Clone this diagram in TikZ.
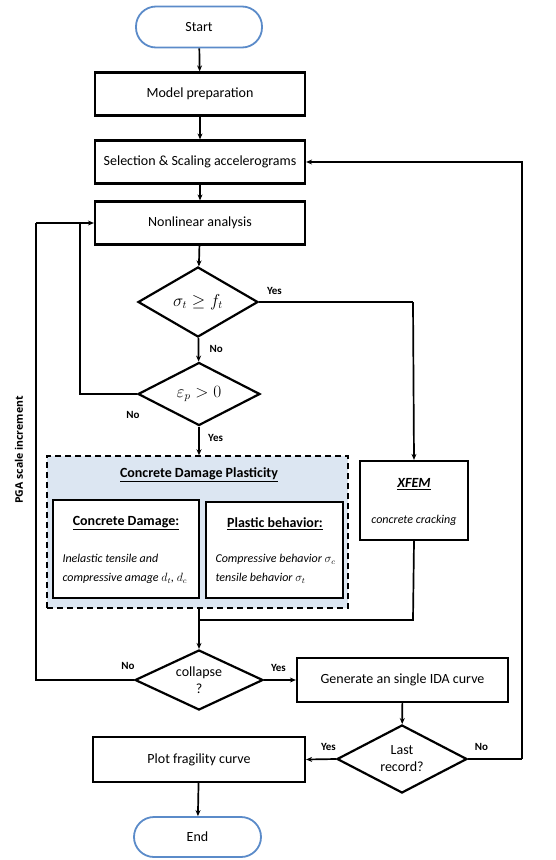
\documentclass[tikz,border=0pt]{standalone}
\usepackage{fontspec}
\setmainfont{Carlito}
\newfontfamily\pgafont{Open Sans}
\usetikzlibrary{shapes.geometric,arrows.meta}
\definecolor{pillblue}{HTML}{5B8BC9}
\definecolor{cdpfill}{HTML}{DCE6F2}
\tikzset{
  every node/.style={font=\fontsize{14}{16}\selectfont},
  pill/.style={draw=pillblue, line width=1.8pt, rounded corners=20pt, minimum width=126pt, minimum height=41pt, inner sep=0pt},
  procbox/.style={draw, line width=2.2pt, minimum width=210pt, minimum height=43pt, inner sep=0pt},
  decision/.style={draw, line width=2.2pt, diamond, aspect=1.7, inner sep=0pt},
  innerbox/.style={draw, line width=2.2pt, inner sep=0pt, align=center},
  conn/.style={line width=1.7pt},
  arr/.style={conn, -{Stealth[length=6pt,width=5pt]}},
  lbl/.style={font=\fontsize{11}{13}\selectfont\bfseries},
}
\begin{document}
\begin{tikzpicture}[x=1pt,y=-1pt]
\useasboundingbox (0,0) rectangle (555,860);
% nodes
\node[pill] (start) at (199,27) {Start};
\node[procbox] (model) at (200,94) {Model preparation};
\node[procbox] (sel) at (200,162) {Selection \& Scaling accelerograms};
\node[procbox] (nla) at (200,223) {Nonlinear analysis};
\node[decision, minimum width=120pt, minimum height=70pt, font=\fontsize{16}{18}\selectfont] (sig) at (198,302) {$\sigma_t \geq f_t$};
\node[decision, minimum width=122pt, minimum height=63pt, font=\fontsize{16}{18}\selectfont] (eps) at (199,394) {$\varepsilon_p > 0$};
% CDP region
\node[draw, dash pattern=on 6pt off 4pt, line width=1.5pt, fill=cdpfill, minimum width=301pt, minimum height=152pt, inner sep=0pt] (cdp) at (197.5,532) {};
\node[font=\fontsize{14}{16}\selectfont\bfseries] (cdptitle) at (199,475) {\underline{Concrete Damage Plasticity}};
\node[innerbox, fill=white, minimum width=146pt, minimum height=98pt] (cdbox) at (126,549) {};
\node[font=\fontsize{14}{16}\selectfont\bfseries] (cdhead) at (126,523) {\underline{Concrete Damage:}};
\node[font=\fontsize{12}{19}\selectfont\itshape, align=left, anchor=west] (cdtext) at (59,569) {Inelastic tensile and\\compressive amage $d_t$, $d_c$};
\node[innerbox, fill=white, minimum width=137pt, minimum height=96pt] (plbox) at (274.5,550) {};
\node[font=\fontsize{14}{16}\selectfont\bfseries] (plhead) at (275,524) {\underline{Plastic behavior:}};
\node[font=\fontsize{12}{19}\selectfont\itshape, align=left, anchor=west] (pltext) at (212,569) {Compressive behavior $\sigma_c$\\tensile behavior $\sigma_t$};
% XFEM
\node[innerbox, minimum width=108pt, minimum height=79pt] (xfem) at (414,500.5) {};
\node[font=\fontsize{14}{16}\selectfont\bfseries\itshape] (xfemhead) at (414,484) {\underline{XFEM}};
\node[font=\fontsize{12}{14}\selectfont\itshape] (xfemtext) at (414,520) {concrete cracking};
% lower part
\node[decision, minimum width=128pt, minimum height=60pt, align=center, font=\fontsize{14}{17}\selectfont] (col) at (199,680) {collapse\\?};
\node[procbox, minimum width=211pt, minimum height=44pt] (ida) at (402.5,680) {Generate an single IDA curve};
\node[decision, minimum width=130pt, minimum height=68pt, align=center, font=\fontsize{14}{17}\selectfont] (last) at (402,759) {Last\\record?};
\node[procbox, minimum width=212pt, minimum height=45pt] (plot) at (199,759.5) {Plot fragility curve};
\node[pill, minimum width=127pt, minimum height=40pt] (end) at (197.5,837) {End};
% side label
\node[rotate=90, font=\pgafont\fontsize{10.5}{12}\selectfont\bfseries] (pga) at (19,450) {PGA scale increment};
% coordinates
\coordinate (outer) at (36,223);
\coordinate (inner) at (80,223);
\coordinate (xr) at (413,302);
\coordinate (xb) at (413,620);
\coordinate (jn) at (199,620);
\coordinate (rr) at (522,759);
% connectors
\draw[arr] (start) -- (model);
\draw[arr] (model) -- (sel);
\draw[arr] (sel) -- (nla);
\draw[arr] (nla) -- (sig);
\draw[arr] (sig) -- node[lbl, right=7pt, pos=0.45] (lno1) {No} (eps);
\draw[arr] (eps) -- node[lbl, right=5pt, pos=0.4] (lyes1) {Yes} (eps.south |- cdp.north);
\draw[conn] (sig.east) -- (xr) node[lbl, pos=0.1, above=3pt] (lyes2) {Yes};
\draw[arr] (xr) -- (xfem.north);
\draw[conn] (eps.west) -- (eps.west -| inner) -- (inner);
\node[lbl] (lno2) at (133,415) {No};
\draw[arr] (outer) -- (nla.west);
\draw[conn] (xfem.south) -- (xb) -- (jn);
\draw[arr] (eps.south |- cdp.south) -- (col.north);
\draw[conn] (col.west) -- (col.west -| outer) -- (outer);
\node[lbl] (lno3) at (128,666) {No};
\draw[arr] (col.east) -- node[lbl, above=4pt, pos=0.45] (lyes3) {Yes} (ida.west);
\draw[arr] (ida) -- (last);
\draw[arr] (last.west) -- node[lbl, above=4pt, pos=0.25] (lyes4) {Yes} (plot.east);
\draw[conn] (last.east) -- (rr) node[lbl, pos=0.25, above=4pt] (lno4) {No};
\draw[arr] (rr) |- (sel.east);
\draw[arr] (plot) -- (end);
\end{tikzpicture}
\end{document}
